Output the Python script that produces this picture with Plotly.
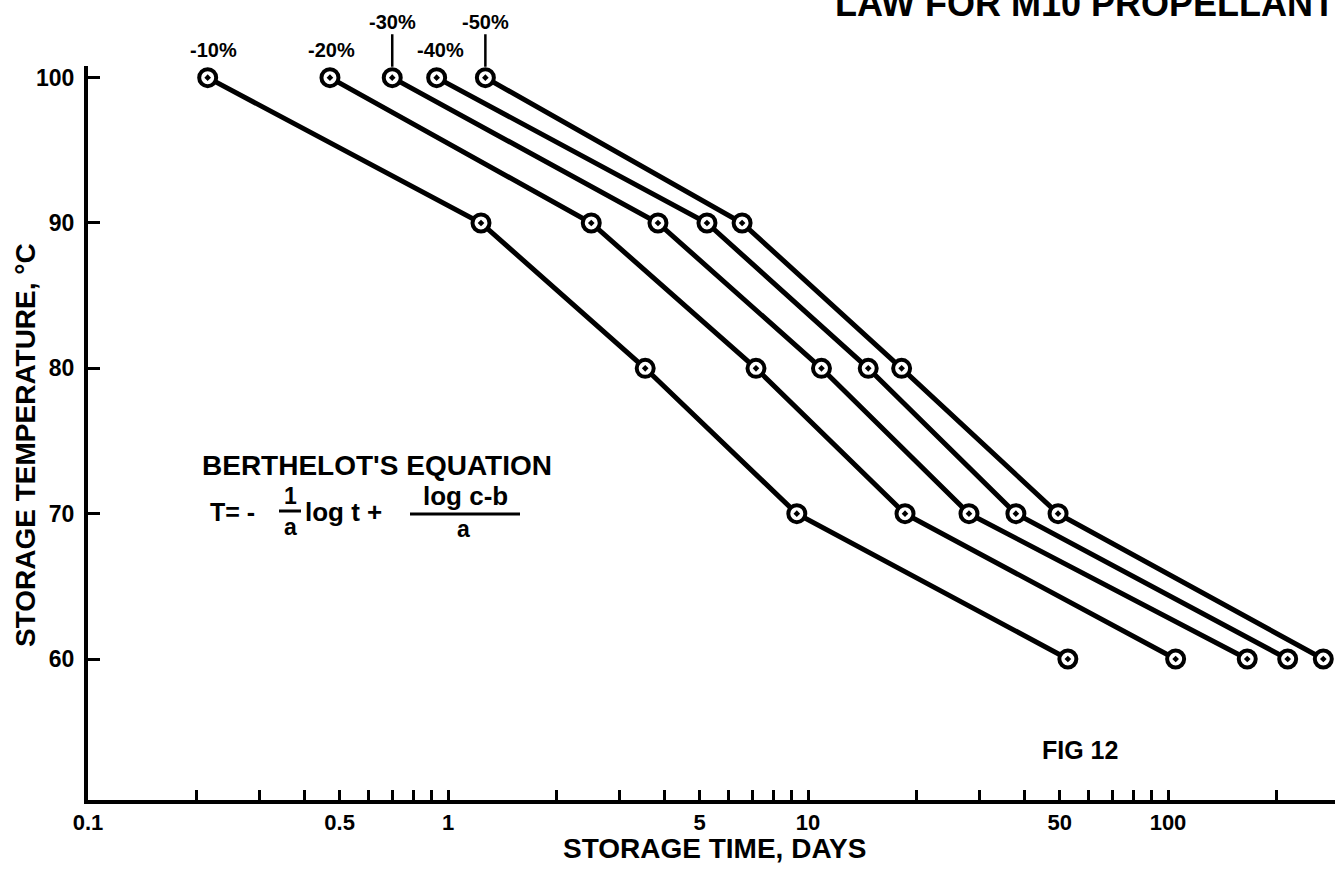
import math
import plotly.graph_objects as go

# ---- data ----
temps = [100, 90, 80, 70, 60]
days_10 = [0.215, 1.235, 3.53, 9.31, 52.7]
days_20 = [0.47, 2.50, 7.17, 18.6, 105]
days_30 = [0.70, 3.83, 10.9, 28.0, 166]
days_40 = [0.93, 5.24, 14.7, 37.8, 215]
days_50 = [1.27, 6.56, 18.2, 49.5, 270]
series_names = ["-10%", "-20%", "-30%", "-40%", "-50%"]
series_days = [days_10, days_20, days_30, days_40, days_50]

x_tick_vals = [0.1, 0.2, 0.3, 0.4, 0.5, 0.6, 0.7, 0.8, 0.9, 1,
               2, 3, 4, 5, 6, 7, 8, 9, 10,
               20, 30, 40, 50, 60, 70, 80, 90, 100, 200]
x_tick_labels = {0.1: "0.1", 0.5: "0.5", 1: "1", 5: "5", 10: "10", 50: "50", 100: "100"}
y_tick_vals = [60, 70, 80, 90, 100]

# ---- layout geometry ----
W, H = 1335, 869
ML, MR, MT, MB = 88, 0, 66, 69
PW, PH = W - ML - MR, H - MT - MB
FONT = "Liberation Sans"


def px(x):
    return (x - ML) / PW


def py(y):
    return (H - MB - y) / PH


def bold(size):
    return dict(family=FONT, size=size, color="black", weight="bold")


fig = go.Figure()
for name, days in zip(series_names, series_days):
    fig.add_trace(go.Scatter(
        x=days, y=temps, mode="lines+markers", name=name,
        line=dict(color="black", width=5),
        marker=dict(symbol="circle-dot", size=17, color="white",
                    line=dict(color="black", width=4)),
        cliponaxis=False, showlegend=False))

annotations = []
label_style = {"-10%": dict(ay=None, xshift=6), "-20%": dict(ay=None, xshift=2),
               "-40%": dict(ay=None, xshift=4),
               "-30%": dict(ay=-56, xshift=0), "-50%": dict(ay=-56, xshift=0)}
for name, days in zip(series_names, series_days):
    st = label_style[name]
    if st["ay"] is None:
        annotations.append(dict(
            x=math.log10(days[0]), y=temps[0], xref="x", yref="y",
            xanchor="center", yanchor="middle",
            text=name, showarrow=False, yshift=28, xshift=st["xshift"],
            font=bold(20)))
    else:
        annotations.append(dict(
            x=math.log10(days[0]), y=temps[0], xref="x", yref="y",
            text=name, showarrow=True, ax=0, ay=st["ay"], arrowhead=0,
            arrowwidth=2.5, arrowcolor="black", standoff=11,
            font=bold(20)))


def txt(x, y, text, size, xanchor="center", angle=0):
    return dict(x=px(x), y=py(y), xref="paper", yref="paper", text=text,
                showarrow=False, xanchor=xanchor, yanchor="middle",
                textangle=angle, font=bold(size))


# title (cut at the top edge, as in the reference)
annotations.append(txt(1085, 4, "LAW FOR M10 PROPELLANT", 36))
# axis titles
annotations.append(txt(715, 848, "STORAGE TIME, DAYS", 28))
annotations.append(txt(25, 445, "STORAGE TEMPERATURE, °C", 28, angle=-90))
# FIG 12
annotations.append(txt(1080, 750, "FIG 12", 25))
# Berthelot equation
annotations += [
    txt(200, 465, "BERTHELOT'S EQUATION", 28, xanchor="left"),
    txt(208, 512, "T= -", 25, xanchor="left"),
    txt(290, 496, "1", 23),
    txt(290, 527, "a", 23),
    txt(303, 512, "log t +", 26, xanchor="left"),
    txt(465, 496, "log c-b", 26),
    txt(463, 529, "a", 23),
]
shapes = [
    dict(type="line", xref="paper", yref="paper", x0=px(279), x1=px(301),
         y0=py(511), y1=py(511), line=dict(color="black", width=3)),
    dict(type="line", xref="paper", yref="paper", x0=px(410), x1=px(520),
         y0=py(514), y1=py(514), line=dict(color="black", width=3)),
]

fig.update_layout(
    width=W, height=H,
    margin=dict(l=ML, r=MR, t=MT, b=MB),
    paper_bgcolor="white", plot_bgcolor="white",
    font=dict(family=FONT, color="black"),
    annotations=annotations, shapes=shapes,
    hovermode=False,
    xaxis=dict(type="log", range=[-1, -1 + PW / 360.0],
               tickvals=x_tick_vals,
               ticktext=[x_tick_labels.get(v, "") for v in x_tick_vals],
               ticks="inside", ticklen=10, tickwidth=3, tickcolor="black",
               showline=True, linecolor="black", linewidth=4,
               showgrid=False, zeroline=False,
               tickfont=bold(22)),
    yaxis=dict(range=[50.3, 100.8], tickvals=y_tick_vals,
               ticks="inside", ticklen=12, tickwidth=3, tickcolor="black",
               showline=True, linecolor="black", linewidth=4,
               showgrid=False, zeroline=False, ticklabelstandoff=5,
               tickfont=bold(23)),
)

fig.write_html("out.html",
               config={"displayModeBar": False},
               post_script="document.body.style.margin='0';"
                           "document.body.style.overflow='hidden';")
